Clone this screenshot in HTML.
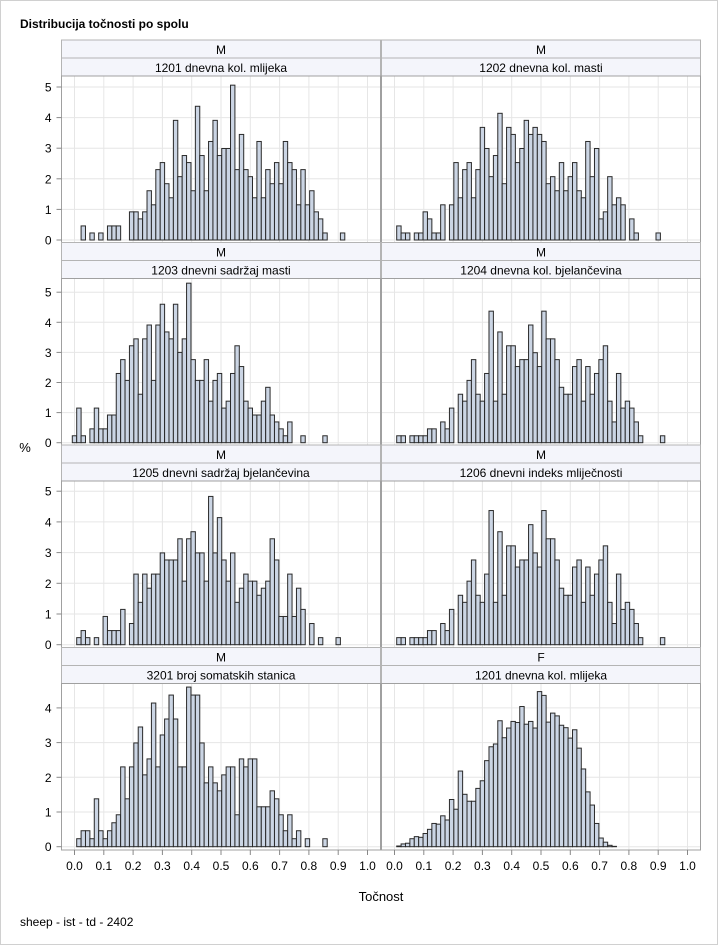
<!DOCTYPE html>
<html><head><meta charset="utf-8"><style>
html,body{margin:0;padding:0;background:#fff}
svg{display:block;font-family:"Liberation Sans",Arial,sans-serif}
</style></head><body>
<svg id="chart" width="718" height="945" viewBox="0 0 718 945" xmlns="http://www.w3.org/2000/svg">
<rect x="0.5" y="0.5" width="717" height="944" fill="#fff" stroke="#d0d0d0"/>
<text x="20" y="28" font-size="12" font-weight="bold" fill="#000">Distribucija točnosti po spolu</text>
<text x="25" y="452" font-size="13" text-anchor="middle" fill="#000">%</text>
<text x="381" y="901" font-size="13" text-anchor="middle" fill="#000">Točnost</text>
<text x="20" y="926" font-size="12" fill="#000">sheep - ist - td - 2402</text>
<g id="panels"></g>
</svg>
<script>
const xTickLabels = ["0.0","0.1","0.2","0.3","0.4","0.5","0.6","0.7","0.8","0.9","1.0"];
const binStart = -0.0075;
const binWidth = 0.015;
const p1201M = [0,0,0.46,0,0.23,0,0.23,0,0.46,0.46,0.46,0,0,0.92,0.92,0.69,0.92,1.61,1.15,2.3,2.53,1.84,1.38,3.91,2.07,2.76,2.53,1.61,4.37,2.76,1.61,3.22,3.91,2.76,2.99,2.99,5.06,2.3,3.45,2.3,2.07,1.38,3.22,1.38,2.3,1.84,2.53,1.84,3.22,2.53,2.3,1.15,2.3,1.15,1.61,0.92,0.69,0.23,0,0,0,0.23];
const p1202M = [0,0.46,0.23,0.23,0,0.23,0.23,0.92,0.69,0.23,0.23,1.15,0,1.15,2.53,1.38,2.3,2.53,1.38,2.3,3.68,2.99,2.07,2.76,4.14,1.84,3.68,3.45,2.53,2.99,3.91,3.45,3.68,3.45,3.22,1.84,2.07,1.61,2.53,1.61,2.07,2.53,1.61,1.38,3.22,2.07,2.99,0.69,0.92,2.07,1.15,1.38,1.15,0,0.69,0.23,0,0,0,0,0.23];
const p1203M = [0.23,1.15,0.23,0,0.46,1.15,0.46,0.46,0.92,0.92,2.3,2.76,2.07,3.22,3.45,1.61,3.45,3.91,2.07,3.91,4.6,3.68,3.45,4.6,3.0,3.45,5.3,2.76,2.07,2.07,2.76,1.38,2.07,2.3,1.15,1.38,2.3,3.22,2.53,1.38,1.15,0.92,0.92,1.38,1.84,0.92,0.69,0.46,0.23,0.69,0,0,0.23,0,0,0,0,0.23,0,0,0,0];
const p1204M = [0,0.23,0.23,0,0.23,0.23,0.23,0.23,0.46,0.46,0,0.69,0.46,1.15,0,1.61,1.38,2.07,2.76,1.61,1.38,2.3,4.37,1.38,3.68,1.61,3.22,3.22,2.53,2.76,2.76,3.91,2.99,2.53,4.37,3.45,3.45,2.76,1.84,1.61,1.61,2.53,2.76,1.38,2.53,1.61,2.3,2.76,3.22,1.38,0.69,2.3,1.15,1.38,1.15,0.69,0.23,0,0,0,0,0.23];
const p1205M = [0,0.23,0.46,0.23,0,0.23,0,0.92,0.46,0.46,0.46,1.15,0,0.69,2.3,1.38,2.3,1.84,2.3,2.3,2.99,2.76,2.76,2.76,3.45,2.07,3.45,3.68,2.99,2.99,2.07,4.83,2.99,4.14,2.76,2.07,2.99,1.38,1.84,2.3,2.07,2.07,1.61,1.84,2.07,3.45,2.76,0.92,0.92,2.3,0.92,1.84,1.15,0,0.69,0,0.23,0,0,0,0.23,0];
const p1206M = [0,0.23,0.23,0,0.23,0.23,0.23,0.23,0.46,0.46,0,0.69,0.46,1.15,0,1.61,1.38,2.07,2.76,1.61,1.38,2.3,4.37,1.38,3.68,1.61,3.22,3.22,2.53,2.76,2.76,3.91,2.99,2.53,4.37,3.45,3.45,2.76,1.84,1.61,1.61,2.53,2.76,1.38,2.53,1.61,2.3,2.76,3.22,1.38,0.69,2.3,1.15,1.38,1.15,0.69,0.23,0,0,0,0,0.23];
const p3201M = [0,0.23,0.46,0.46,0.23,1.38,0.46,0.23,0.46,0.69,0.92,2.3,1.38,2.3,2.99,3.45,2.07,2.53,4.14,2.3,3.22,3.68,4.37,3.68,2.3,2.3,4.6,4.37,4.37,2.99,1.84,2.3,1.84,1.61,2.07,2.3,2.3,0.92,2.53,2.3,2.53,2.53,1.15,1.15,1.15,1.61,1.38,0.92,0.46,0.92,0.23,0.46,0,0.23,0,0,0,0.23,0,0,0,0];
const p1201F = [0,0.02,0.08,0.1,0.23,0.29,0.27,0.38,0.5,0.67,0.65,0.89,0.77,1.36,1.08,2.18,1.51,1.31,1.31,1.68,1.9,2.48,2.88,2.96,3.63,3.14,3.42,3.61,3.58,4.04,3.53,3.61,3.42,4.47,4.36,3.59,3.85,3.77,3.5,3.43,3.13,3.37,2.84,2.24,1.58,1.2,0.67,0.25,0.13,0.04,0.01,0,0,0,0,0,0,0,0,0,0,0];
const panelTitles = ["1201 dnevna kol. mlijeka","1202 dnevna kol. masti","1203 dnevni sadržaj masti","1204 dnevna kol. bjelančevina","1205 dnevni sadržaj bjelančevina","1206 dnevni indeks mliječnosti","3201 broj somatskih stanica","1201 dnevna kol. mlijeka"];
const panelSex = ["M","M","M","M","M","M","M","F"];
const panelValues = [p1201M,p1202M,p1203M,p1204M,p1205M,p1206M,p3201M,p1201F];
const rowYTicks = [[0,1,2,3,4,5],[0,1,2,3,4,5],[0,1,2,3,4,5],[0,1,2,3,4]];

const NS="http://www.w3.org/2000/svg";
const root=document.getElementById('panels');
function mk(tag,attrs,parent){const e=document.createElementNS(NS,tag);for(const k in attrs)e.setAttribute(k,attrs[k]);(parent||root).appendChild(e);return e;}
const rowTop=[40,242.5,445,647.5];
const rowBase=[240,442.7,644.7,846.7];
const rowPPU=[30.6,30.1,30.7,34.7];
const colLeft=[61.5,381.5], colW=319;
const colX0=[74.5,394.5], pxPerUnitX=293;

for(let p=0;p<8;p++){
  const r=Math.floor(p/2), c=p%2;
  const top=rowTop[r], L=colLeft[c];
  const sx=v=>colX0[c]+v*pxPerUnitX;
  const sy=v=>rowBase[r]-v*rowPPU[r];
  const g=mk('g',{});
  
  
  const h1=mk('rect',{x:L,y:top,width:colW,height:18,fill:'#f4f5fb',stroke:'#b4b4b4'},g);
  
  
  const t1=mk('text',{x:L+colW/2,y:top+14,'font-size':12,'text-anchor':'middle',fill:'#000'},g);
  t1.textContent=panelSex[p];
  
  
  const h2=mk('rect',{x:L,y:top+18,width:colW,height:18,fill:'#f4f5fb',stroke:'#b4b4b4'},g);
  
  
  const t2=mk('text',{x:L+colW/2,y:top+32,'font-size':12,'text-anchor':'middle',fill:'#000'},g);
  t2.textContent=panelTitles[p];
  
  
  const pt=top+36, pb=top+202.5;
  // gridlines
  for(let i=0;i<xTickLabels.length;i++){
    const gl=mk('line',{x1:sx(i/10),x2:sx(i/10),y1:pt,y2:pb,stroke:'#e6e6e6','stroke-width':1},g);
    
    
  }
  rowYTicks[r].forEach(v=>{
    const gl=mk('line',{x1:L,x2:L+colW,y1:sy(v),y2:sy(v),stroke:'#e6e6e6','stroke-width':1},g);
    
    
  });
  const vals=panelValues[p];
  for(let i=0;i<vals.length;i++){
    const x0=sx(binStart+i*binWidth), x1=sx(binStart+(i+1)*binWidth);
    const y=sy(vals[i]);
    const b=mk('rect',{x:x0,y:y,width:x1-x0,height:Math.max(0,rowBase[r]-y),fill:'#cbd5e4',stroke:'#2a2a2a','stroke-width':1},g);
    
    
  }
  const fr=mk('rect',{x:L,y:pt,width:colW,height:pb-pt,fill:'none',stroke:'#a0a0a0'},g);
  
  
  if(c===0){
    rowYTicks[r].forEach(v=>{
      const tk=mk('line',{x1:L-5,x2:L,y1:sy(v),y2:sy(v),stroke:'#888'},g);
      
      
      const tl=mk('text',{x:L-10,y:sy(v)+4.5,'font-size':12,'text-anchor':'end',fill:'#000'},g);
      tl.textContent=String(v);
      
      
    });
  }
  if(r===3){
    for(let i=0;i<xTickLabels.length;i++){
      const tk=mk('line',{x1:sx(i/10),x2:sx(i/10),y1:pb,y2:pb+5,stroke:'#888'},g);
      
      
      const tl=mk('text',{x:sx(i/10),y:pb+20,'font-size':12,'text-anchor':'middle',fill:'#000'},g);
      tl.textContent=xTickLabels[i];
      
      
    }
  }
}
</script>
</body></html>
